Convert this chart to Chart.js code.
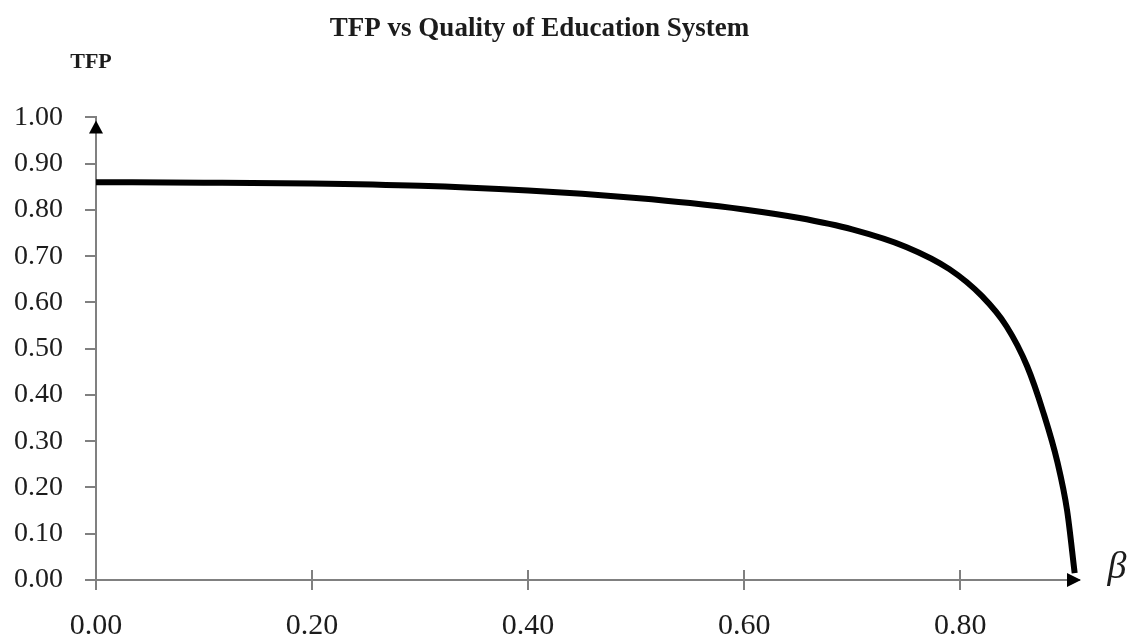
<!DOCTYPE html>
<html>
<head>
<meta charset="utf-8">
<title>TFP vs Quality of Education System</title>
<script src="https://cdn.jsdelivr.net/npm/chart.js@4/dist/chart.umd.min.js"></script>
<style>
  html, body { margin: 0; padding: 0; background: #fff; }
  #wrap { width: 1131px; height: 641px; position: relative; }
</style>
</head>
<body>
<div id="wrap"><canvas id="tfpChart"></canvas></div>
<script>
// beta (quality of education system) and TFP
const betaValues = [0.00, 0.10, 0.20, 0.30, 0.40, 0.45, 0.50, 0.55, 0.60, 0.65, 0.70, 0.75, 0.79, 0.82, 0.843, 0.862, 0.877, 0.890, 0.899, 0.906]
const tfpValues  = [0.860, 0.859, 0.857, 0.852, 0.842, 0.835, 0.826, 0.815, 0.801, 0.783, 0.758, 0.720, 0.672, 0.614, 0.548, 0.462, 0.362, 0.255, 0.150, 0.015]

const xTicks = [0, 0.2, 0.4, 0.6, 0.8]
const yTicks = [0, 0.1, 0.2, 0.3, 0.4, 0.5, 0.6, 0.7, 0.8, 0.9, 1.0]

const TITLE      = 'TFP vs Quality of Education System'
const Y_LABEL    = 'TFP'
const X_LABEL    = 'β'
const AXIS_COLOR = '#808080'
const TEXT_COLOR = '#1c1c1c'
const SERIF      = "'Liberation Serif', 'Times New Roman', serif"

Chart.defaults.font.family = SERIF

// arrows, crossing x ticks and the two free axis labels
const axisDecor = {
  id: 'axisDecor',
  afterDraw(chart) {
    const { ctx, chartArea: { left, right, top, bottom }, scales: { x } } = chart
    ctx.save()

    ctx.strokeStyle = AXIS_COLOR
    ctx.lineWidth = 2
    x.ticks.forEach(t => {
      const px = Math.round(x.getPixelForValue(t.value))
      if (px <= left + 2) return
      ctx.beginPath()
      ctx.moveTo(px, bottom - 10)
      ctx.lineTo(px, bottom)
      ctx.stroke()
    })

    ctx.fillStyle = '#000'
    ctx.beginPath()
    ctx.moveTo(left, top + 3)
    ctx.lineTo(left - 7, top + 16)
    ctx.lineTo(left + 7, top + 16)
    ctx.closePath()
    ctx.fill()

    ctx.beginPath()
    ctx.moveTo(right + 2, bottom)
    ctx.lineTo(right - 12, bottom - 7)
    ctx.lineTo(right - 12, bottom + 7)
    ctx.closePath()
    ctx.fill()

    ctx.fillStyle = TEXT_COLOR
    ctx.textAlign = 'center'
    ctx.textBaseline = 'middle'
    ctx.font = `bold 22px ${SERIF}`
    ctx.fillText(Y_LABEL, 91, 62)

    ctx.font = `italic 38px ${SERIF}`
    ctx.fillText(X_LABEL, 1117, 568)

    ctx.restore()
  }
}

function init() {
  const points = betaValues.map((b, i) => ({ x: b, y: tfpValues[i] }))

  new Chart(document.getElementById('tfpChart').getContext('2d'), {
    type: 'line',
    data: {
      datasets: [{
        label: 'TFP',
        data: points,
        borderColor: '#000',
        borderWidth: 6,
        pointRadius: 0,
        cubicInterpolationMode: 'monotone',
        fill: false
      }]
    },
    options: {
      responsive: true,
      maintainAspectRatio: false,
      animation: false,
      layout: { padding: { top: 0, right: 52, left: 0, bottom: 0 } },
      plugins: {
        legend: { display: false },
        tooltip: { enabled: false },
        title: {
          display: true,
          text: TITLE,
          color: TEXT_COLOR,
          font: { size: 27, weight: 'bold' },
          padding: { top: 13, bottom: 72 }
        }
      },
      scales: {
        x: {
          type: 'linear',
          min: 0,
          max: 0.91,
          afterBuildTicks: s => { s.ticks = xTicks.map(v => ({ value: v })) },
          afterFit: s => { s.height = 61 },
          ticks: {
            color: TEXT_COLOR,
            font: { size: 30 },
            padding: 18,
            maxRotation: 0,
            callback: v => v.toFixed(2)
          },
          grid: { drawOnChartArea: false, color: AXIS_COLOR, lineWidth: 2, tickLength: 10 },
          border: { color: AXIS_COLOR, width: 2 }
        },
        y: {
          min: 0,
          max: 1,
          afterBuildTicks: s => { s.ticks = yTicks.map(v => ({ value: v })) },
          afterFit: s => { s.width = 96 },
          ticks: {
            color: TEXT_COLOR,
            font: { size: 28 },
            padding: 22,
            callback: v => v.toFixed(2)
          },
          grid: { drawOnChartArea: false, color: AXIS_COLOR, lineWidth: 2, tickLength: 11 },
          border: { color: AXIS_COLOR, width: 2 }
        }
      }
    },
    plugins: [axisDecor]
  })
}

init()
</script>
</body>
</html>
